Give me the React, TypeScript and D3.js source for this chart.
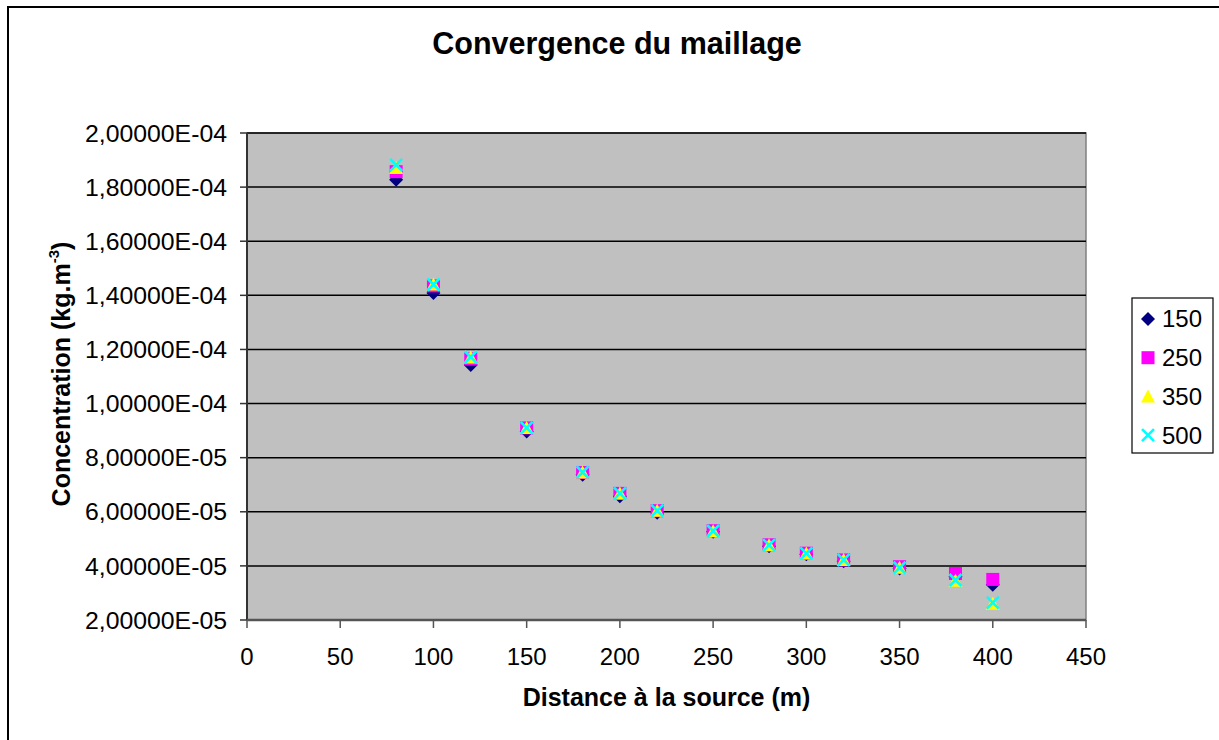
import React from "react";
import * as d3 from "d3";

const distances = [80, 100, 120, 150, 180, 200, 220, 250, 280, 300, 320, 350, 380, 400];
const s150 = [1.827e-4, 1.409e-4, 1.1425e-4, 8.97e-5, 7.37e-5, 6.57e-5, 5.96e-5, 5.26e-5, 4.73e-5, 4.43e-5, 4.17e-5, 3.9e-5, 3.6e-5, 3.3e-5];
const s250 = [1.857e-4, 1.435e-4, 1.165e-4, 9.1e-5, 7.45e-5, 6.68e-5, 6.04e-5, 5.3e-5, 4.78e-5, 4.47e-5, 4.22e-5, 3.97e-5, 3.72e-5, 3.5e-5];
const s350 = [1.871e-4, 1.44e-4, 1.17e-4, 9.1e-5, 7.45e-5, 6.68e-5, 6.04e-5, 5.28e-5, 4.76e-5, 4.46e-5, 4.22e-5, 3.93e-5, 3.45e-5, 2.6e-5];
const s500 = [1.882e-4, 1.44e-4, 1.172e-4, 9.1e-5, 7.46e-5, 6.68e-5, 6.04e-5, 5.29e-5, 4.77e-5, 4.465e-5, 4.22e-5, 3.93e-5, 3.48e-5, 2.64e-5];
const seriesNames = ["150", "250", "350", "500"];
const xTicks = [0, 50, 100, 150, 200, 250, 300, 350, 400, 450];
const yTicks = [2e-5, 4e-5, 6e-5, 8e-5, 1e-4, 1.2e-4, 1.4e-4, 1.6e-4, 1.8e-4, 2e-4];

const FONT = "'Liberation Sans', Arial, sans-serif";
const colors = ["#000080", "#FF00FF", "#FFFF00", "#00FFFF"];

function fmt(v: number): string {
  const [m, e] = v.toExponential(5).split("e");
  const ev = parseInt(e, 10);
  const sign = ev < 0 ? "-" : "+";
  const abs = Math.abs(ev).toString().padStart(2, "0");
  return m.replace(".", ",") + "E" + sign + abs;
}

function Marker({ kind, x, y }: { kind: number; x: number; y: number }) {
  if (kind === 0) {
    const h = 7;
    return <path d={`M${x},${y - h}L${x + h},${y}L${x},${y + h}L${x - h},${y}Z`} fill={colors[0]} />;
  }
  if (kind === 1) {
    const h = 6.5;
    return <rect x={x - h} y={y - h} width={2 * h} height={2 * h} fill={colors[1]} />;
  }
  if (kind === 2) {
    return <path d={`M${x},${y - 7}L${x + 7},${y + 6}L${x - 7},${y + 6}Z`} fill={colors[2]} />;
  }
  const h = 6;
  return (
    <path
      d={`M${x - h},${y - h}L${x + h},${y + h}M${x + h},${y - h}L${x - h},${y + h}`}
      stroke={colors[3]}
      strokeWidth={2.6}
      fill="none"
    />
  );
}

export default function App() {
  const left = 247, right = 1086, top = 133, bottom = 620;
  const x = d3.scaleLinear().domain([0, 450]).range([left, right]);
  const y = d3.scaleLinear().domain([2e-5, 2e-4]).range([bottom, top]);
  const all = [s150, s250, s350, s500];

  return (
    <svg width={1219} height={740} style={{ position: "absolute", left: 0, top: 0 }} fontFamily={FONT}>
      <rect x={0} y={0} width={1219} height={740} fill="#fff" />
      <rect x={8} y={7} width={1230} height={760} fill="#fff" stroke="#000" strokeWidth={2} />
      <text x={617} y={54} textAnchor="middle" fontSize={30.5} fontWeight="bold">
        Convergence du maillage
      </text>
      <rect x={left} y={top} width={right - left} height={bottom - top} fill="#C0C0C0" stroke="#808080" strokeWidth={1.5} />
      {yTicks.map((t) => (
        <line key={"g" + t} x1={left} x2={right} y1={y(t)} y2={y(t)} stroke="#000" strokeWidth={1.5} />
      ))}
      <line x1={left} x2={left} y1={top} y2={bottom} stroke="#333" strokeWidth={2} />
      <line x1={left} x2={right} y1={bottom} y2={bottom} stroke="#555" strokeWidth={2.5} />
      {yTicks.map((t) => (
        <g key={"y" + t}>
          <line x1={left - 7} x2={left} y1={y(t)} y2={y(t)} stroke="#333" strokeWidth={1.5} />
          <text x={227} y={y(t)} dy="0.35em" textAnchor="end" fontSize={24.8}>
            {fmt(t)}
          </text>
        </g>
      ))}
      {xTicks.map((t) => (
        <g key={"x" + t}>
          <line x1={x(t)} x2={x(t)} y1={bottom} y2={bottom + 8} stroke="#555" strokeWidth={1.5} />
          <text x={x(t)} y={665} textAnchor="middle" fontSize={24}>
            {t}
          </text>
        </g>
      ))}
      <text x={(left + right) / 2} y={706} textAnchor="middle" fontSize={25} fontWeight="bold">
        Distance à la source (m)
      </text>
      <text transform={`translate(70,374) rotate(-90)`} textAnchor="middle" fontSize={25} fontWeight="bold">
        Concentration (kg.m
        <tspan fontSize={15} dy={-11}>-3</tspan>
        <tspan dy={11}>)</tspan>
      </text>
      {all.map((s, k) => (
        <g key={"s" + k}>
          {s.map((v, i) => (
            <Marker key={i} kind={k} x={x(distances[i])} y={y(v)} />
          ))}
        </g>
      ))}
      <rect x={1132} y={298} width={81} height={155} fill="#fff" stroke="#000" strokeWidth={1.2} />
      {seriesNames.map((n, k) => (
        <g key={"l" + n}>
          <Marker kind={k} x={1148} y={319 + k * 38.7} />
          <text x={1162} y={319 + k * 38.7} dy="0.35em" fontSize={24}>
            {n}
          </text>
        </g>
      ))}
    </svg>
  );
}
